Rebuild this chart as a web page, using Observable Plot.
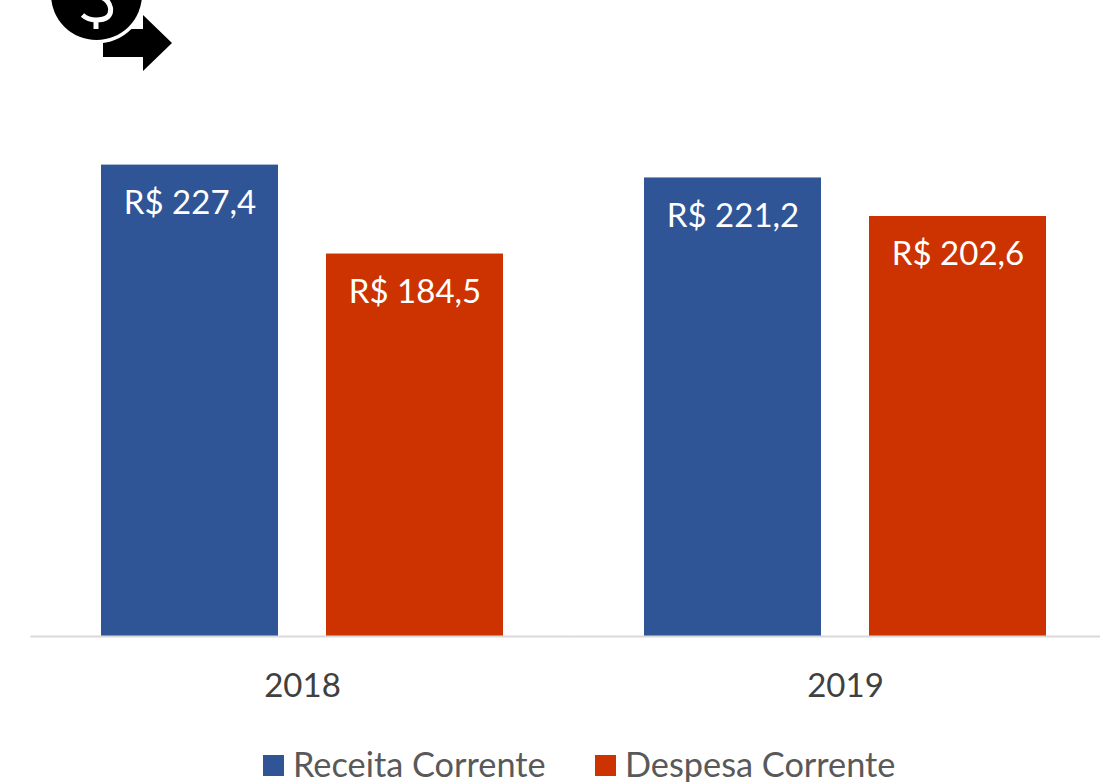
<!DOCTYPE html>
<html lang="pt">
<head>
<meta charset="utf-8">
<script src="https://cdn.jsdelivr.net/npm/d3@7"></script>
<script src="https://cdn.jsdelivr.net/npm/@observablehq/plot@0.6"></script>
<style>
html,body{margin:0;padding:0;background:#fff;overflow:hidden}
#wrap{position:relative;width:1100px;height:782px;font-family:Lato,sans-serif}
#icon{position:absolute;left:0;top:0}
#legend{position:absolute;left:0;top:744px;width:1100px;height:38px;font-size:34.3px;color:#595959}
#legend span{position:absolute;white-space:nowrap;line-height:34px;height:34px;top:3px}
#legend i{position:absolute;top:11px;width:21px;height:21px}
</style>
</head>
<body>
<div id="wrap">
<div id="chart"></div>
<svg id="icon" width="180" height="80" viewBox="0 0 180 80" aria-hidden="true">
  <path d="M103,29 H143 V15 L172,43 L143,71 V57 H103 Z" fill="#000"/>
  <circle cx="96.5" cy="-5.5" r="49" fill="#fff"/>
  <circle cx="96.5" cy="-5.5" r="45.5" fill="#000"/>
  <path d="M82.5,15 Q88,20 96,20 Q112,20 110.5,8 Q109,0 101,-3 M96,20 L96,29" fill="none" stroke="#fff" stroke-width="5"/>
</svg>
<div id="legend"></div>
</div>
<script>
const years = ["2018", "2019"];
const seriesNames = ["Receita Corrente", "Despesa Corrente"];
const receita = [227.4, 221.2];
const despesa = [184.5, 202.6];
const seriesColors = ["#2F5597", "#CC3300"];
const valueLabels = v => "R$ " + v.toFixed(1).replace(".", ",");

const rows = years.flatMap((year, i) => [
  {year, series: seriesNames[0], value: receita[i]},
  {year, series: seriesNames[1], value: despesa[i]}
]);

const plot = Plot.plot({
  width: 1100,
  height: 744,
  marginLeft: 30.5,
  marginRight: -16.5,
  marginTop: 0,
  marginBottom: 108,
  style: {fontFamily: "Lato, sans-serif", background: "#fff"},
  fx: {domain: years, padding: 0, round: false, label: null},
  x: {domain: seriesNames, paddingInner: 48 / 225, paddingOuter: 70.5 / 225, round: false, axis: null},
  y: {domain: [0, 306.8], axis: null},
  color: {domain: seriesNames, range: seriesColors},
  marks: [
    Plot.barY(rows, {fx: "year", x: "series", y: "value", fill: "series"}),
    Plot.text(rows, {
      fx: "year", x: "series", y: "value",
      text: d => valueLabels(d.value),
      dy: 38, fill: "#fff", fontSize: 33, lineAnchor: "middle"
    }),
    Plot.ruleY([0], {stroke: "#d9d9d9", strokeWidth: 2}),
    Plot.axisFx({anchor: "bottom", tickSize: 0, tickPadding: 37, fontSize: 33, color: "#404040", label: null})
  ]
});
document.getElementById("chart").append(plot);

const legend = document.getElementById("legend");
const swatchX = [263, 595];
seriesNames.forEach((name, i) => {
  const sw = document.createElement("i");
  sw.style.left = swatchX[i] + "px";
  sw.style.background = seriesColors[i];
  legend.append(sw);
  const t = document.createElement("span");
  t.style.left = (swatchX[i] + 30) + "px";
  t.textContent = name;
  legend.append(t);
});
</script>
</body>
</html>
